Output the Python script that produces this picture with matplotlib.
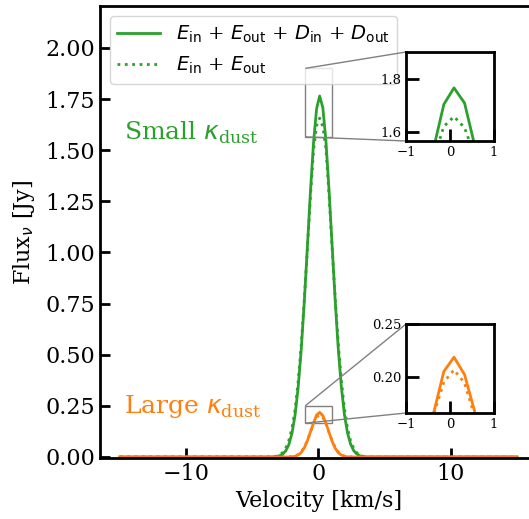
import numpy as np
import matplotlib
matplotlib.use("Agg")
import matplotlib.pyplot as plt
from mpl_toolkits.axes_grid1.inset_locator import mark_inset

plt.rcParams['font.family'] = 'serif'
plt.rcParams['font.serif'] = ['DejaVu Serif']
plt.rcParams['mathtext.fontset'] = 'dejavusans'

# velocity channels [km/s] (flat zero outside the line core)
velocity = [-15.0, -3.63, -3.40, -3.17, -2.94, -2.70, -2.47, -2.24, -2.00, -1.77, -1.54,
            -1.31, -1.07, -0.84, -0.61, -0.37, -0.14, 0.09, 0.33, 0.56, 0.79,
            1.02, 1.26, 1.49, 1.72, 1.96, 2.19, 2.42, 2.66, 2.89, 3.12, 3.36, 3.59, 15.0]

# small kappa_dust
small_total = [0.0, 0.0, 0.001, 0.002, 0.006, 0.014, 0.030, 0.060, 0.116, 0.203, 0.335,
               0.517, 0.758, 1.023, 1.293, 1.540, 1.703, 1.765, 1.708, 1.549, 1.315,
               1.047, 0.769, 0.535, 0.349, 0.208, 0.119, 0.064, 0.031, 0.015, 0.006, 0.002, 0.0, 0.0]
small_emis = [0.0, 0.0, 0.002, 0.004, 0.010, 0.022, 0.043, 0.080, 0.140, 0.230, 0.365,
              0.540, 0.770, 1.012, 1.268, 1.500, 1.620, 1.657, 1.615, 1.510, 1.290,
              1.035, 0.780, 0.560, 0.380, 0.238, 0.142, 0.080, 0.042, 0.021, 0.010, 0.004, 0.0, 0.0]

# large kappa_dust
large_total = [0.0, 0.0, 0.0, 0.0, 0.0, 0.0, 0.0001, 0.0004, 0.0012, 0.0037, 0.0094,
               0.0215, 0.0445, 0.0785, 0.1223, 0.166, 0.2050, 0.2185, 0.2020, 0.167, 0.1223,
               0.0785, 0.0433, 0.0215, 0.0094, 0.0035, 0.0012, 0.0004, 0.0001, 0.0, 0.0, 0.0, 0.0, 0.0]
large_emis = [0.0, 0.0, 0.0, 0.0, 0.0, 0.0, 0.0002, 0.0006, 0.0018, 0.0049, 0.0117,
              0.0248, 0.0482, 0.0811, 0.1216, 0.1643, 0.1950, 0.2065, 0.1940, 0.1626, 0.1216,
              0.0811, 0.0470, 0.0248, 0.0117, 0.0047, 0.0017, 0.0006, 0.0002, 0.0, 0.0, 0.0, 0.0, 0.0]

green = '#2ca02c'
orange = '#ff7f0e'

fig = plt.figure(figsize=(5.29, 5.19), dpi=100)
ax = fig.add_axes([0.189, 0.1175, 0.826, 0.871])


def draw(a, lw=2):
    # dotted curves sit underneath the solid ones
    a.plot(velocity, small_total, color=green, lw=lw, zorder=2.2,
           label=r'$E_{\rm in}$ + $E_{\rm out}$ + $D_{\rm in}$ + $D_{\rm out}$')
    a.plot(velocity, small_emis, color=green, lw=lw, ls=':', zorder=2.0,
           label=r'$E_{\rm in}$ + $E_{\rm out}$')
    a.plot(velocity, large_total, color=orange, lw=lw, zorder=2.3)
    a.plot(velocity, large_emis, color=orange, lw=lw, ls=':', zorder=2.1)


draw(ax)
ax.set_xlim(-16.5, 16.5)
ax.set_ylim(-0.005, 2.205)
ax.set_xticks([-10, 0, 10])
ax.set_yticks(np.arange(0, 2.01, 0.25))
ax.yaxis.set_major_formatter(matplotlib.ticker.FormatStrFormatter('%.2f'))
ax.tick_params(direction='in', length=7, width=2, labelsize=16)
for s in ax.spines.values():
    s.set_linewidth(2)
ax.set_xlabel('Velocity [km/s]', fontsize=16)
ax.set_ylabel(r'Flux$_\nu$ [Jy]', fontsize=16, labelpad=6)
ax.legend(loc='upper left', fontsize=14, handlelength=2.2)

ax.text(-14.7, 1.585, r'Small $\kappa_{\mathregular{dust}}$', color=green,
        fontsize=18, va='center', ha='left')
ax.text(-14.7, 0.249, r'Large $\kappa_{\mathregular{dust}}$', color=orange,
        fontsize=18, va='center', ha='left')

# insets
ins1 = fig.add_axes([0.7675, 0.7283, 0.1664, 0.1715])
ins2 = fig.add_axes([0.7675, 0.2042, 0.1664, 0.1715])
for a, lims, ticks, fmt in [(ins1, (1.565, 1.90), [1.6, 1.8], '%.1f'),
                            (ins2, (0.1655, 0.25), [0.20, 0.25], '%.2f')]:
    draw(a)
    a.set_xlim(-1, 1)
    a.set_ylim(*lims)
    a.set_xticks([-1, 0, 1])
    a.set_yticks(ticks)
    a.yaxis.set_major_formatter(matplotlib.ticker.FormatStrFormatter(fmt))
    a.tick_params(direction='in', length=9, width=2, labelsize=9.5)
    for s in a.spines.values():
        s.set_linewidth(2)
    mark_inset(ax, a, loc1=2, loc2=3, fc='none', ec='0.5', lw=1)

fig.savefig('out.png', dpi=100)
